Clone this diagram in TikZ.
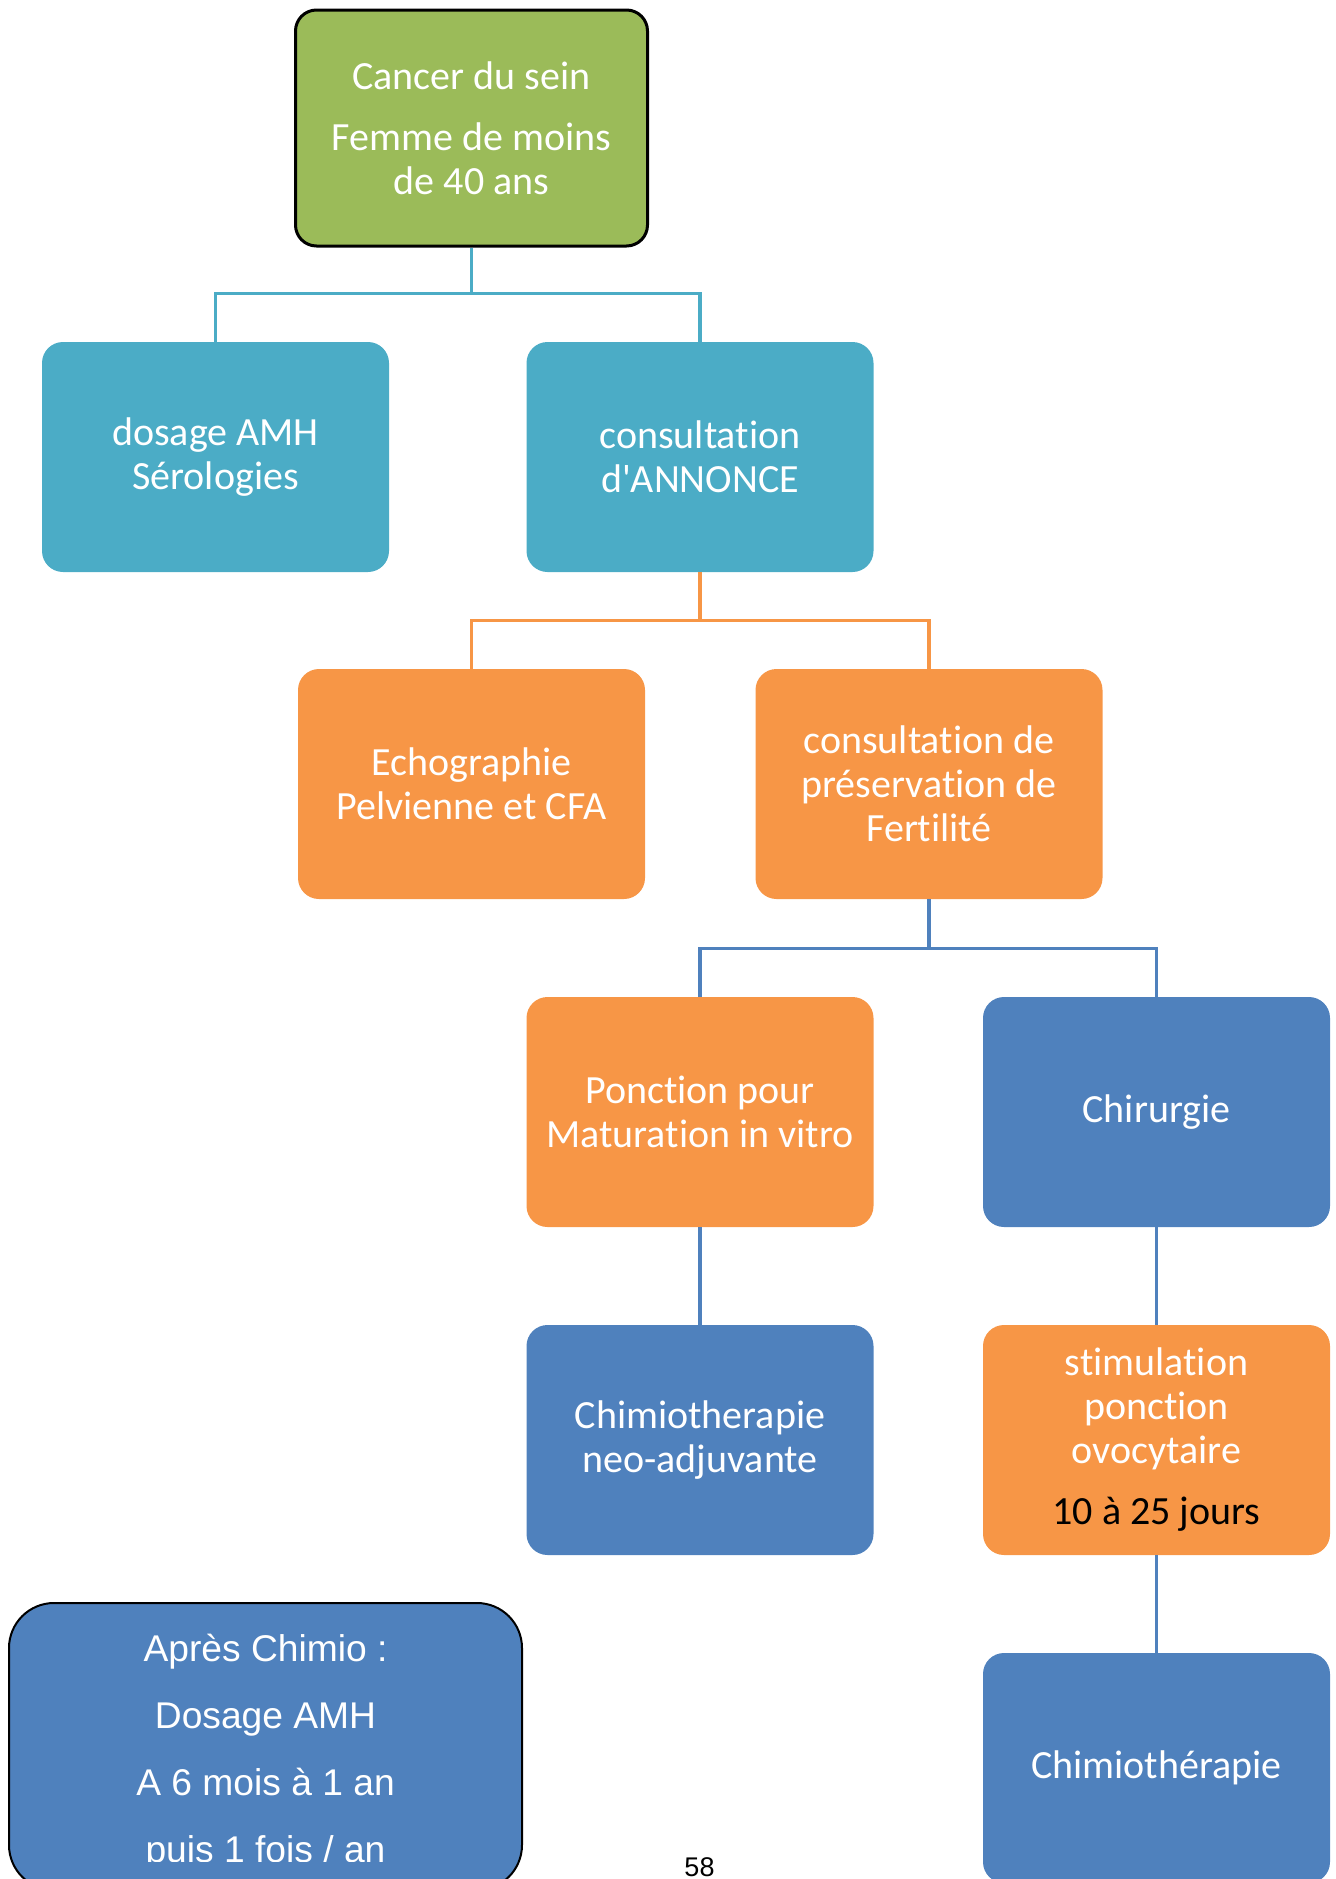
\documentclass[tikz,border=0pt]{standalone}
\usepackage{fontspec}
\setmainfont{Carlito}[Ligatures={TeXOff,NoCommon}]
\newfontfamily\arialfont{Liberation Sans}
\definecolor{smGreen}{HTML}{9BBB59}
\definecolor{smTeal}{HTML}{4BACC6}
\definecolor{smOrange}{HTML}{F79646}
\definecolor{smBlue}{HTML}{4F81BD}
\tikzset{
  box/.style={rectangle, rounded corners=10.5pt, minimum width=173.5pt, minimum height=115pt,
    inner sep=0pt, align=center, text=white, font=\fontsize{20}{22}\selectfont},
  greenbox/.style={box, fill=smGreen, draw=black, line width=1.5pt, minimum width=176pt, minimum height=118pt},
  tealbox/.style={box, fill=smTeal},
  orangebox/.style={box, fill=smOrange},
  bluebox/.style={box, fill=smBlue},
  link/.style={line width=1.6pt},
}
\begin{document}
\begin{tikzpicture}[x=0.5pt, y=-0.5pt]
\useasboundingbox (0,0) rectangle (1335,1879);
% top of the tree
\node[greenbox] (cancer) at (471.5,128) {Cancer du sein\\[8.5pt]Femme de moins\\de 40 ans};
\node[tealbox] (amh) at (215.5,457) {dosage AMH\\Sérologies};
\node[tealbox] (annonce) at (700,457) {consultation\\d'ANNONCE};
\node[orangebox] (echo) at (471.5,784) {Echographie\\Pelvienne et CFA};
\node[orangebox] (preserv) at (929,784) {consultation de\\préservation de\\Fertilité};
\node[orangebox] (ponction) at (700,1112) {Ponction pour\\Maturation in vitro};
\node[bluebox] (chirurgie) at (1156.5,1112) {Chirurgie};
\node[bluebox] (neoadj) at (700,1440) {Chimiotherapie\\neo-adjuvante};
\node[orangebox] (stim) at (1156.5,1440) {stimulation\\ponction\\ovocytaire\\[8.5pt]\textcolor{black}{10 à 25 jours}};
\node[bluebox] (chimio) at (1156.5,1768) {Chimiothérapie};
% links
\draw[link, smTeal] (cancer.south) -- ++(0,46) -| (amh.north);
\draw[link, smTeal] (cancer.south) -- ++(0,46) -| (annonce.north);
\draw[link, smOrange] (annonce.south) -- ++(0,48) -| (echo.north);
\draw[link, smOrange] (annonce.south) -- ++(0,48) -| (preserv.north);
\draw[link, smBlue] (preserv.south) -- ++(0,49) -| (ponction.north);
\draw[link, smBlue] (preserv.south) -- ++(0,49) -| (chirurgie.north);
\draw[link, smBlue] (ponction.south) -- (neoadj.north);
\draw[link, smBlue] (chirurgie.south) -- (stim.north);
\draw[link, smBlue] (stim.south) -- (chimio.north);
% box after chemo, text cut at the page edge
\node[rectangle, rounded corners=22.5pt, fill=smBlue, draw=black, line width=1pt,
  minimum width=256.5pt, minimum height=143.5pt] (apres) at (265.5,1746.5) {};
\begin{scope}
\clip (0,0) rectangle (1335,1861);
\node[align=center, text=white, font=\arialfont\fontsize{18.6}{33.5}\selectfont] (apresText) at (265.5,1752)
  {Après Chimio :\\Dosage AMH\\A 6 mois à 1 an\\puis 1 fois / an};
\end{scope}
\node[font=\arialfont\fontsize{13.5}{16}\selectfont] (pagenum) at (699.5,1867) {58};
\end{tikzpicture}
\end{document}
